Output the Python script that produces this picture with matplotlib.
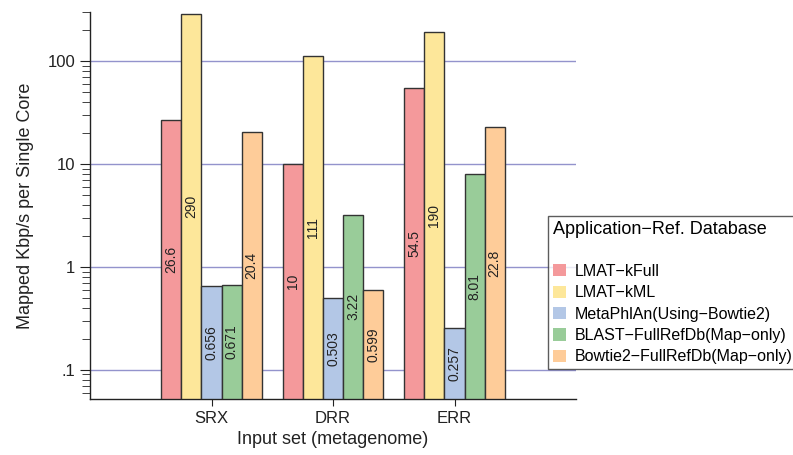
import matplotlib
matplotlib.use("Agg")
import matplotlib.pyplot as plt
import matplotlib.ticker as mticker
import numpy as np

# ---- data ----
groups = ["SRX", "DRR", "ERR"]
series_names = ["LMAT\u2212kFull", "LMAT\u2212kML", "MetaPhlAn(Using\u2212Bowtie2)",
                "BLAST\u2212FullRefDb(Map\u2212only)", "Bowtie2\u2212FullRefDb(Map\u2212only)"]
lmat_kfull = [26.6, 10, 54.5]
lmat_kml = [290, 111, 190]
metaphlan = [0.656, 0.503, 0.257]
blast = [0.671, 3.22, 8.01]
bowtie2 = [20.4, 0.599, 22.8]
labels = [["26.6", "10", "54.5"], ["290", "111", "190"], ["0.656", "0.503", "0.257"],
          ["0.671", "3.22", "8.01"], ["20.4", "0.599", "22.8"]]
colors = ["#F4999B", "#FDE79A", "#B3C7E6", "#99CC99", "#FECC99"]

plt.rcParams['font.family'] = ['Liberation Sans', 'DejaVu Sans']

fig = plt.figure(figsize=(7.93, 4.55), dpi=100)
ax = fig.add_axes([90/793, 1-399/455, (576-90)/793, (399-12)/455])

ymin, ymax = 0.052, 300
x = np.arange(len(groups))
width = 0.165
allvals = [lmat_kfull, lmat_kml, metaphlan, blast, bowtie2]

for i, vals in enumerate(allvals):
    pos = x + (i - 2) * width
    ax.bar(pos, np.array(vals) - ymin, bottom=ymin, width=width, color=colors[i],
           edgecolor="#333333", linewidth=1.0, label=series_names[i], zorder=3)
    # value labels, centred in log space
    for p, v, t in zip(pos, vals, labels[i]):
        ax.text(p, np.sqrt(v * ymin), t, rotation=90, ha="center", va="center",
                fontsize=10, color="#222222", zorder=4)

ax.set_yscale("log")
ax.set_ylim(ymin, ymax)
ax.set_xlim(-1, 3)
ax.yaxis.set_major_locator(mticker.FixedLocator([0.1, 1, 10, 100]))
ax.yaxis.set_major_formatter(mticker.FixedFormatter([".1", "1", "10", "100"]))
ax.yaxis.set_minor_locator(mticker.LogLocator(base=10, subs=np.arange(2, 10)))
ax.yaxis.set_minor_formatter(mticker.NullFormatter())
ax.set_xticks(x)
ax.set_xticklabels(groups)

ax.grid(axis="y", which="major", color="#9393CC", linewidth=1.0, zorder=0)
for s in ["top", "right"]:
    ax.spines[s].set_visible(False)
for s in ["left", "bottom"]:
    ax.spines[s].set_color("#222222")
    ax.spines[s].set_linewidth(1.0)
ax.tick_params(axis="y", which="major", length=7, labelsize=12, colors="#222222")
ax.tick_params(axis="y", which="minor", length=6, colors="#222222")
ax.tick_params(axis="x", length=5, labelsize=12, colors="#222222")

ax.set_xlabel("Input set (metagenome)", fontsize=13, color="#222222", labelpad=4)
ax.set_ylabel("Mapped Kbp/s per Single Core", fontsize=13, color="#222222", labelpad=10)

leg = fig.legend(loc="upper left", bbox_to_anchor=(548/793, 1-216/455), borderaxespad=0,
                 title="Application\u2212Ref. Database\n", title_fontsize=13, fontsize=11.5,
                 frameon=True, fancybox=False, edgecolor="#333333", handlelength=0.8,
                 handleheight=0.8, handletextpad=0.6, labelspacing=0.4, borderpad=0.3)
leg.get_frame().set_linewidth(1.0)
leg._legend_box.align = "left"
for h in leg.legend_handles:
    h.set_edgecolor("none")

fig.savefig("out.png", dpi=100)
